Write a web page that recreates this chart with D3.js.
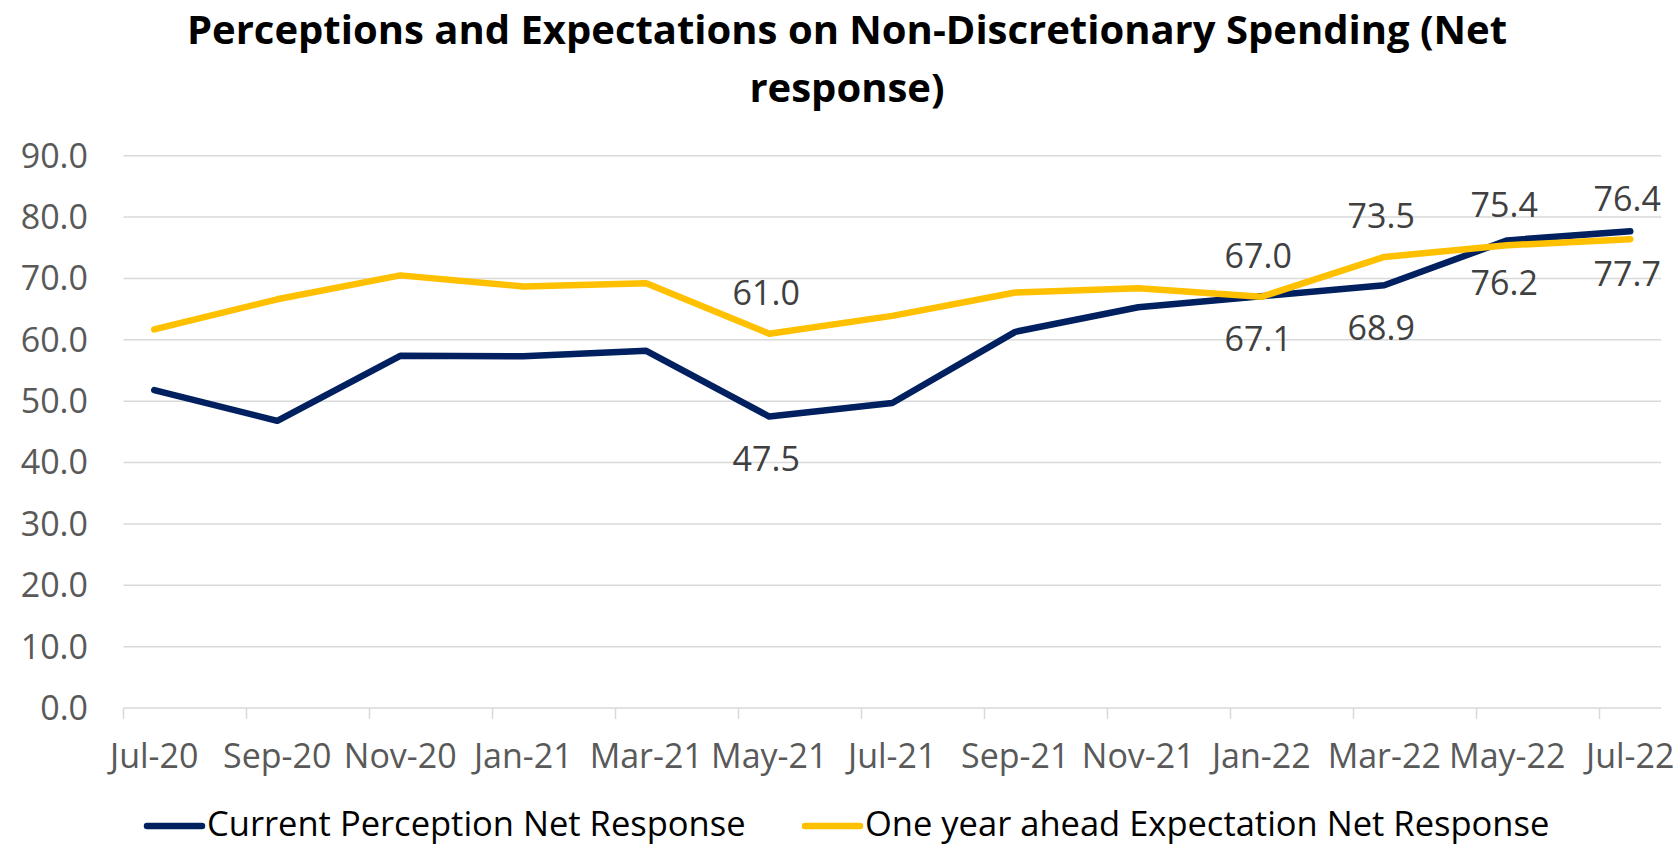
<!DOCTYPE html>
<meta charset="utf-8">
<style>
body { margin: 0; background: #fff; }
svg { display: block; font-family: "Open Sans", Lato, "Liberation Sans", sans-serif; }
.grid line { stroke: #d9d9d9; stroke-width: 1.5px; }
.tick-mark { stroke: #d9d9d9; stroke-width: 1.5px; }
.axis-label { fill: #595959; font-size: 34px; }
.data-label { fill: #404040; font-size: 34px; text-anchor: middle; }
.title { fill: #000; font-size: 40px; font-weight: bold; text-anchor: middle; }
.legend-text { fill: #000; font-size: 34.5px; }
.series { fill: none; stroke-width: 6.5px; stroke-linejoin: round; stroke-linecap: round; }
</style>
<svg width="1679" height="845"></svg>
<script src="https://cdn.jsdelivr.net/npm/d3@7"></script>
<script>
// survey months, every two months
var months = ["Jul-20", "Sep-20", "Nov-20", "Jan-21", "Mar-21", "May-21", "Jul-21",
              "Sep-21", "Nov-21", "Jan-22", "Mar-22", "May-22", "Jul-22"];
var current = [51.8, 46.8, 57.4, 57.3, 58.2, 47.5, 49.7, 61.3, 65.3, 67.1, 68.9, 76.2, 77.7];
var expected = [61.7, 66.6, 70.5, 68.7, 69.2, 61.0, 63.9, 67.7, 68.4, 67.0, 73.5, 75.4, 76.4];
var labelled = [5, 9, 10, 11, 12];   // points that carry a data label
var yTicks = [0, 10, 20, 30, 40, 50, 60, 70, 80, 90];
var seriesNames = ["Current Perception Net Response", "One year ahead Expectation Net Response"];
var colors = ["#002060", "#ffc000"];

var svg = d3.select("svg");

// date axis: one slot per month, points sit mid-month
var x = d3.scaleLinear().domain([0, 25]).range([123.5, 1661]);
var y = d3.scaleLinear().domain([0, 90]).range([708, 155.7]);
var px = function(i) { return x(2 * i + 0.5); };

svg.append("text").attr("class", "title").attr("x", 847).attr("y", 44)
    .text("Perceptions and Expectations on Non-Discretionary Spending (Net");
svg.append("text").attr("class", "title").attr("x", 847).attr("y", 102)
    .text("response)");

svg.append("g").attr("class", "grid")
  .selectAll("line").data(yTicks).join("line")
    .attr("x1", x(0)).attr("x2", x(25))
    .attr("y1", d => y(d)).attr("y2", d => y(d));

svg.append("g").selectAll("text").data(yTicks).join("text")
    .attr("class", "axis-label")
    .attr("x", 88).attr("y", d => y(d))
    .attr("text-anchor", "end").attr("dy", "0.35em")
    .text(d => d3.format(".1f")(d));

svg.append("g").selectAll("line").data(months).join("line")
    .attr("class", "tick-mark")
    .attr("x1", (d, i) => x(2 * i)).attr("x2", (d, i) => x(2 * i))
    .attr("y1", y(0)).attr("y2", y(0) + 11);

svg.append("g").selectAll("text").data(months).join("text")
    .attr("class", "axis-label")
    .attr("x", (d, i) => px(i)).attr("y", 768)
    .attr("text-anchor", "middle")
    .text(d => d);

var line = d3.line().x((d, i) => px(i)).y(d => y(d));

[current, expected].forEach(function(vals, k) {
  svg.append("path").datum(vals).attr("class", "series")
      .attr("stroke", colors[k]).attr("d", line);
});

// current labels go under the point, expectation labels above
svg.append("g").selectAll("text").data(labelled).join("text")
    .attr("class", "data-label")
    .attr("x", i => px(i) - 3).attr("y", i => y(current[i]) + 54.5)
    .text(i => current[i].toFixed(1));
svg.append("g").selectAll("text").data(labelled).join("text")
    .attr("class", "data-label")
    .attr("x", i => px(i) - 3).attr("y", i => y(expected[i]) - 28.5)
    .text(i => expected[i].toFixed(1));

var legendX = [147, 805];
var lg = svg.append("g").selectAll("g").data(seriesNames).join("g")
    .attr("transform", (d, i) => "translate(" + legendX[i] + ",826)");
lg.append("line").attr("x1", 0).attr("x2", 55)
    .attr("stroke", (d, i) => colors[i]).attr("stroke-width", 6.5)
    .attr("stroke-linecap", "round");
lg.append("text").attr("class", "legend-text").attr("x", 60).attr("y", 10)
    .text(d => d);
</script>
